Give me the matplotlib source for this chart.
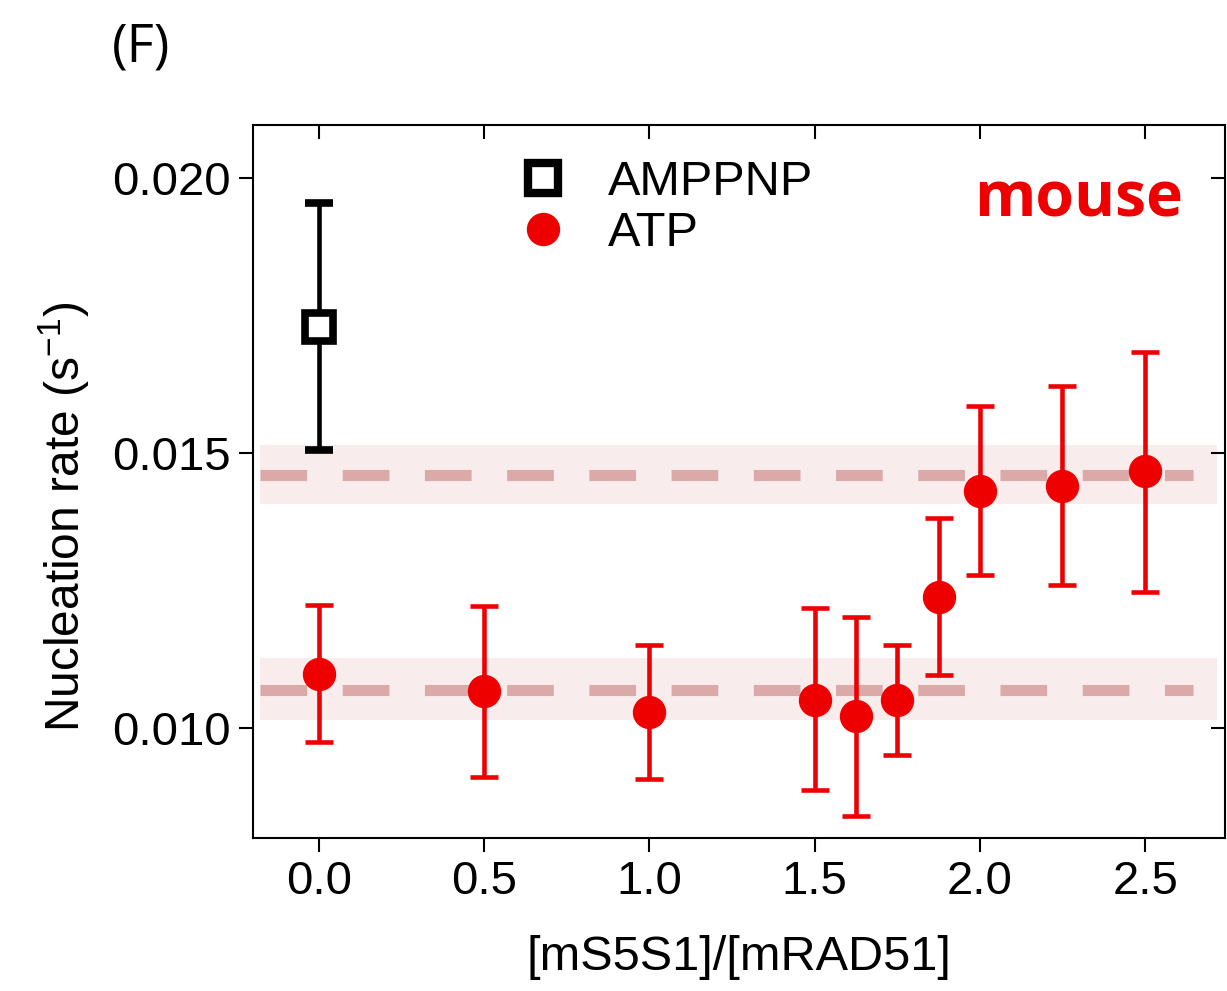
import matplotlib
matplotlib.use('Agg')
import matplotlib.pyplot as plt
from matplotlib.lines import Line2D

plt.rcParams['font.family'] = ['Liberation Sans', 'DejaVu Sans']
plt.rcParams['mathtext.fontset'] = 'custom'
plt.rcParams['mathtext.rm'] = 'Liberation Sans'
plt.rcParams['mathtext.it'] = 'Liberation Sans'

# ATP series
atp_x = [0.0, 0.5, 1.0, 1.5, 1.625, 1.75, 1.875, 2.0, 2.25, 2.5]
atp_y = [0.01098, 0.01067, 0.01029, 0.01051, 0.01022, 0.01051, 0.01238, 0.01431, 0.01440, 0.01467]
atp_hi = [0.01224, 0.01222, 0.01151, 0.01218, 0.01202, 0.01151, 0.01382, 0.01585, 0.01622, 0.01684]
atp_lo = [0.00975, 0.00911, 0.00907, 0.00887, 0.00840, 0.00951, 0.01096, 0.01278, 0.01260, 0.01247]

# AMPPNP series
amp_x = [0.0]
amp_y = [0.01729]
amp_hi = [0.01955]
amp_lo = [0.01505]

# mean levels with bands
level_mean = [0.01069, 0.01460]
level_lo = [0.01015, 0.01407]
level_hi = [0.01127, 0.01514]

fig = plt.figure(figsize=(12.27, 9.91), dpi=100)
ax = fig.add_axes([0.2062, 0.1544, 0.7922, 0.7195])

for m, lo, hi in zip(level_mean, level_lo, level_hi):
    ax.fill_between([-0.18, 2.718], [lo, lo], [hi, hi], color='#f8ecec', lw=0, zorder=1)
    ax.plot([-0.18, 2.645], [m, m], color='#dca9a9', lw=8, dashes=(4.2, 3.2), zorder=2)

atp_err = [[y - l for y, l in zip(atp_y, atp_lo)], [h - y for y, h in zip(atp_y, atp_hi)]]
ax.errorbar(atp_x, atp_y, yerr=atp_err, fmt='o', color='#ee0000', ms=23,
            elinewidth=3.3, capsize=10, capthick=3.3, zorder=4)

amp_err = [[y - l for y, l in zip(amp_y, amp_lo)], [h - y for y, h in zip(amp_y, amp_hi)]]
ax.errorbar(amp_x, amp_y, yerr=amp_err, fmt='s', color='black', mfc='white', mec='black',
            ms=20, mew=5.5, elinewidth=3.3, capsize=10, capthick=3.3, zorder=5)

ax.set_xlim(-0.2, 2.742)
ax.set_ylim(0.008, 0.02096)
ax.set_xticks([0.0, 0.5, 1.0, 1.5, 2.0, 2.5])
ax.set_xticklabels(['0.0', '0.5', '1.0', '1.5', '2.0', '2.5'])
ax.set_yticks([0.010, 0.015, 0.020])
ax.set_yticklabels(['0.010', '0.015', '0.020'])
ax.tick_params(axis='both', which='major', labelsize=34, length=10, width=1.5, pad=6,
               direction='out')
ax.tick_params(top=True, right=True)
for t in ax.xaxis.get_major_ticks():
    t.tick2line.set_marker(3)
for t in ax.yaxis.get_major_ticks():
    t.tick2line.set_marker(0)
for s in ax.spines.values():
    s.set_linewidth(1.5)

ax.set_xlabel('[mS5S1]/[mRAD51]', fontsize=35, labelpad=22)
ax.set_ylabel(r'Nucleation rate (s$^{\mathrm{-1}}$)', fontsize=34.5)
ax.yaxis.set_label_coords(-0.166, 0.45)

handles = [
    Line2D([], [], ls='none', marker='s', ms=21, mfc='white', mec='black', mew=6),
    Line2D([], [], ls='none', marker='o', ms=23, color='#ee0000'),
]
ax.legend(handles, ['AMPPNP', 'ATP'], loc='upper left', bbox_to_anchor=(0.228, 1.012),
          frameon=False, fontsize=35, handlelength=1.0, handletextpad=0.85, labelspacing=0.12)

ax.text(0.957, 0.895, 'mouse', transform=ax.transAxes, ha='right', va='center',
        fontsize=45, fontweight='bold', color='#ee0000', family=['Open Sans', 'DejaVu Sans'])
fig.text(0.115, 0.952, '(F)', fontsize=38, ha='center', va='center',
         family=['Open Sans', 'DejaVu Sans'])

plt.savefig('out.png', dpi=100)
